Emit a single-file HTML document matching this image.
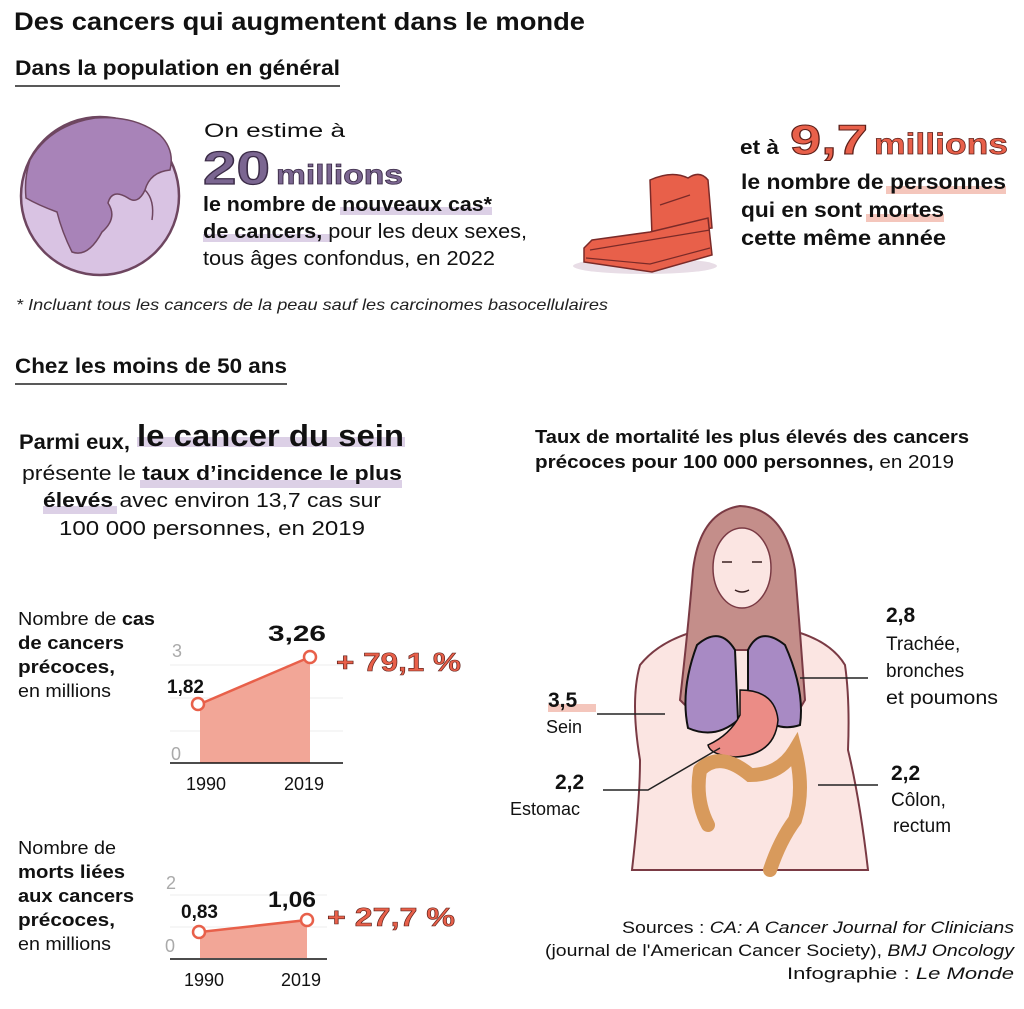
<!DOCTYPE html>
<html><head><meta charset="utf-8"><style>
html,body{margin:0;padding:0;background:#fff;}
svg{display:block;font-family:"Liberation Sans",sans-serif;}
.b{font-weight:bold;}
</style></head><body>
<svg width="1024" height="1009" viewBox="0 0 1024 1009" xmlns="http://www.w3.org/2000/svg">
<text x="14" y="30" font-size="25" class="b" fill="#111" textLength="571" lengthAdjust="spacingAndGlyphs">Des cancers qui augmentent dans le monde</text>
<text x="15" y="75" font-size="21" class="b" fill="#111" textLength="325" lengthAdjust="spacingAndGlyphs">Dans la population en général</text>
<line x1="15" y1="86" x2="340" y2="86" stroke="#222" stroke-width="1.5"/>

<!-- globe -->
<circle cx="100" cy="196" r="79" fill="#d9c3e3" stroke="#6e4660" stroke-width="2.5"/>
<path d="M30 160 Q50 125 95 118 Q135 115 160 135 Q175 150 170 170 Q150 172 145 190 Q138 205 128 198 Q112 188 108 203 Q118 218 102 232 Q88 258 72 252 Q62 232 57 212 Q38 205 26 198 Q24 178 30 160Z" fill="#a883b8" stroke="#6e4660" stroke-width="1.5"/>
<path d="M145 190 Q155 200 152 220" fill="none" stroke="#6e4660" stroke-width="1.5"/>

<text x="204" y="137" font-size="19" fill="#111" textLength="141" lengthAdjust="spacingAndGlyphs">On estime à</text>
<text x="203" y="184" font-size="46" class="b" fill="#7b6691" stroke="#3c2c48" stroke-width="1.2" textLength="67" lengthAdjust="spacingAndGlyphs">20</text>
<text x="276" y="184" font-size="28" class="b" fill="#7b6691" stroke="#3c2c48" stroke-width="0.8" textLength="127" lengthAdjust="spacingAndGlyphs">millions</text>
<rect x="340" y="207" width="152" height="8" fill="#dcd0e6"/>
<rect x="203" y="234" width="128" height="8" fill="#dcd0e6"/>
<text x="203" y="211" font-size="20" class="b" fill="#111" textLength="289" lengthAdjust="spacingAndGlyphs">le nombre de nouveaux cas*</text>
<text x="203" y="238" font-size="20" fill="#111" textLength="324" lengthAdjust="spacingAndGlyphs"><tspan class="b">de cancers,</tspan> pour les deux sexes,</text>
<text x="203" y="265" font-size="20" fill="#111" textLength="292" lengthAdjust="spacingAndGlyphs">tous âges confondus, en 2022</text>

<!-- tomb -->
<ellipse cx="645" cy="266" rx="72" ry="8" fill="#e8dde6"/>
<path d="M650 180 Q672 170 688 178 Q700 170 708 180 L712 228 L652 236Z" fill="#e8604a" stroke="#7a2a28" stroke-width="1.5"/>
<path d="M592 240 L650 232 L708 218 L712 255 L652 272 L584 262 L584 248Z" fill="#e8604a" stroke="#7a2a28" stroke-width="1.5"/>
<path d="M590 250 L710 230 M586 258 L650 264 L710 248 M660 205 L690 195" fill="none" stroke="#7a2a28" stroke-width="1.2"/>

<text x="740" y="154" font-size="20" class="b" fill="#111" textLength="39" lengthAdjust="spacingAndGlyphs">et à</text>
<text x="790" y="154" font-size="42" class="b" fill="#e8604a" stroke="#5a1e18" stroke-width="1" textLength="78" lengthAdjust="spacingAndGlyphs">9,7</text>
<text x="874" y="154" font-size="30" class="b" fill="#e8604a" stroke="#5a1e18" stroke-width="0.7" textLength="134" lengthAdjust="spacingAndGlyphs">millions</text>
<rect x="886" y="186" width="120" height="8" fill="#f4c6bc"/>
<rect x="866" y="214" width="78" height="8" fill="#f4c6bc"/>
<text x="741" y="189" font-size="21" class="b" fill="#111" textLength="265" lengthAdjust="spacingAndGlyphs">le nombre de personnes</text>
<text x="741" y="217" font-size="21" class="b" fill="#111" textLength="203" lengthAdjust="spacingAndGlyphs">qui en sont mortes</text>
<text x="741" y="245" font-size="21" class="b" fill="#111" textLength="205" lengthAdjust="spacingAndGlyphs">cette même année</text>

<text x="16" y="310" font-size="16" font-style="italic" fill="#222" textLength="592" lengthAdjust="spacingAndGlyphs">* Incluant tous les cancers de la peau sauf les carcinomes basocellulaires</text>

<text x="15" y="373" font-size="21" class="b" fill="#111" textLength="272" lengthAdjust="spacingAndGlyphs">Chez les moins de 50 ans</text>
<line x1="15" y1="384" x2="287" y2="384" stroke="#222" stroke-width="1.5"/>

<rect x="137" y="437" width="268" height="10" fill="#dcd0e6"/>
<text x="19" y="449" font-size="21" class="b" fill="#111" textLength="111" lengthAdjust="spacingAndGlyphs">Parmi eux,</text>
<text x="137" y="446" font-size="31" class="b" fill="#111" textLength="267" lengthAdjust="spacingAndGlyphs">le cancer du sein</text>
<rect x="140" y="480" width="262" height="8" fill="#dcd0e6"/>
<rect x="43" y="506" width="74" height="8" fill="#dcd0e6"/>
<text x="22" y="480" font-size="20" fill="#111" textLength="380" lengthAdjust="spacingAndGlyphs">présente le <tspan class="b">taux d’incidence le plus</tspan></text>
<text x="43" y="507" font-size="20" fill="#111" textLength="338" lengthAdjust="spacingAndGlyphs"><tspan class="b">élevés</tspan> avec environ 13,7 cas sur</text>
<text x="59" y="535" font-size="20" fill="#111" textLength="306" lengthAdjust="spacingAndGlyphs">100 000 personnes, en 2019</text>

<!-- chart 1 -->
<text x="18" y="625" font-size="18" fill="#111" textLength="137" lengthAdjust="spacingAndGlyphs">Nombre de <tspan class="b">cas</tspan></text>
<text x="18" y="649" font-size="18" class="b" fill="#111" textLength="106" lengthAdjust="spacingAndGlyphs">de cancers</text>
<text x="18" y="673" font-size="18" class="b" fill="#111" textLength="97" lengthAdjust="spacingAndGlyphs">précoces,</text>
<text x="18" y="697" font-size="18" fill="#111" textLength="93" lengthAdjust="spacingAndGlyphs">en millions</text>
<line x1="170" y1="665" x2="343" y2="665" stroke="#eee"/>
<line x1="170" y1="698" x2="343" y2="698" stroke="#eee"/>
<line x1="170" y1="731" x2="343" y2="731" stroke="#eee"/>
<polygon points="200,704 310,657 310,763 200,763" fill="#f2a697"/>
<line x1="170" y1="763" x2="343" y2="763" stroke="#111" stroke-width="1.5"/>
<line x1="200" y1="704" x2="310" y2="657" stroke="#e8604a" stroke-width="2.5"/>
<circle cx="198" cy="704" r="6" fill="#fff" stroke="#e8604a" stroke-width="2.5"/>
<circle cx="310" cy="657" r="6" fill="#fff" stroke="#e8604a" stroke-width="2.5"/>
<text x="172" y="657" font-size="18" fill="#aaa">3</text>
<text x="171" y="760" font-size="18" fill="#aaa">0</text>
<text x="167" y="693" font-size="19" class="b" fill="#111">1,82</text>
<text x="268" y="641" font-size="22" class="b" fill="#111" textLength="58" lengthAdjust="spacingAndGlyphs">3,26</text>
<text x="336" y="671" font-size="26" class="b" fill="#e8604a" stroke="#5a1e18" stroke-width="0.6" textLength="125" lengthAdjust="spacingAndGlyphs">+ 79,1 %</text>
<text x="186" y="790" font-size="18" fill="#111">1990</text>
<text x="284" y="790" font-size="18" fill="#111">2019</text>

<!-- chart 2 -->
<text x="18" y="854" font-size="18" fill="#111" textLength="98" lengthAdjust="spacingAndGlyphs">Nombre de</text>
<text x="18" y="878" font-size="18" class="b" fill="#111" textLength="107" lengthAdjust="spacingAndGlyphs">morts liées</text>
<text x="18" y="902" font-size="18" class="b" fill="#111" textLength="116" lengthAdjust="spacingAndGlyphs">aux cancers</text>
<text x="18" y="926" font-size="18" class="b" fill="#111" textLength="97" lengthAdjust="spacingAndGlyphs">précoces,</text>
<text x="18" y="950" font-size="18" fill="#111" textLength="93" lengthAdjust="spacingAndGlyphs">en millions</text>
<line x1="170" y1="895" x2="327" y2="895" stroke="#eee"/>
<line x1="170" y1="927" x2="327" y2="927" stroke="#eee"/>
<polygon points="200,932 307,920 307,958 200,958" fill="#f2a697"/>
<line x1="170" y1="959" x2="327" y2="959" stroke="#111" stroke-width="1.5"/>
<line x1="200" y1="932" x2="307" y2="920" stroke="#e8604a" stroke-width="2.5"/>
<circle cx="199" cy="932" r="6" fill="#fff" stroke="#e8604a" stroke-width="2.5"/>
<circle cx="307" cy="920" r="6" fill="#fff" stroke="#e8604a" stroke-width="2.5"/>
<text x="166" y="889" font-size="18" fill="#aaa">2</text>
<text x="165" y="952" font-size="18" fill="#aaa">0</text>
<text x="181" y="918" font-size="19" class="b" fill="#111">0,83</text>
<text x="268" y="907" font-size="22" class="b" fill="#111" textLength="48" lengthAdjust="spacingAndGlyphs">1,06</text>
<text x="327" y="926" font-size="26" class="b" fill="#e8604a" stroke="#5a1e18" stroke-width="0.6" textLength="128" lengthAdjust="spacingAndGlyphs">+ 27,7 %</text>
<text x="184" y="986" font-size="18" fill="#111">1990</text>
<text x="281" y="986" font-size="18" fill="#111">2019</text>

<text x="535" y="443" font-size="18" class="b" fill="#111" textLength="434" lengthAdjust="spacingAndGlyphs">Taux de mortalité les plus élevés des cancers</text>
<text x="535" y="468" font-size="18" fill="#111" textLength="419" lengthAdjust="spacingAndGlyphs"><tspan class="b">précoces pour 100 000 personnes,</tspan> en 2019</text>

<!-- woman -->
<path d="M640 665 Q660 640 700 630 L790 630 Q830 640 845 665 Q850 700 848 750 Q860 800 868 870 L632 870 Q640 800 640 760 Q630 700 640 665Z" fill="#fbe5e2" stroke="#7a3a44" stroke-width="2"/>
<path d="M740 506 Q700 512 693 570 Q688 630 680 700 L702 722 L712 650 L772 650 L792 722 L805 700 Q800 630 795 570 Q785 508 740 506Z" fill="#c48e8a" stroke="#7a3a44" stroke-width="2"/>
<ellipse cx="742" cy="568" rx="29" ry="40" fill="#fbe5e2" stroke="#7a3a44" stroke-width="1.5"/>
<path d="M722 562 h10 M752 562 h10 M735 590 q7 4 14 0" stroke="#3a2020" stroke-width="1.5" fill="none"/>
<path d="M697 645 Q720 625 735 650 L738 720 Q715 740 688 728 Q680 690 697 645Z" fill="#a88ac4" stroke="#111" stroke-width="2"/>
<path d="M785 645 Q760 625 748 650 L748 700 Q770 735 800 725 Q805 690 785 645Z" fill="#a88ac4" stroke="#111" stroke-width="2"/>
<path d="M740 690 Q775 690 778 720 Q775 755 735 757 Q710 755 708 745 Q730 735 740 715Z" fill="#eb8c86" stroke="#111" stroke-width="1.5"/>
<path d="M700 770 Q720 750 750 775 Q780 775 795 750 Q805 790 795 820 Q780 840 770 870 M700 770 Q695 800 708 825" fill="none" stroke="#d89a5c" stroke-width="14" stroke-linecap="round"/>

<rect x="548" y="704" width="48" height="8" fill="#f4c6bc"/>
<text x="548" y="707" font-size="21" class="b" fill="#111">3,5</text>
<text x="546" y="733" font-size="18" fill="#111">Sein</text>
<line x1="597" y1="714" x2="665" y2="714" stroke="#222" stroke-width="1.5"/>
<text x="555" y="789" font-size="21" class="b" fill="#111">2,2</text>
<text x="510" y="815" font-size="18" fill="#111">Estomac</text>
<path d="M603 790 L648 790 L720 748" fill="none" stroke="#222" stroke-width="1.5"/>
<text x="886" y="622" font-size="21" class="b" fill="#111">2,8</text>
<text x="886" y="650" font-size="19" fill="#111">Trachée,</text>
<text x="886" y="677" font-size="19" fill="#111">bronches</text>
<text x="886" y="704" font-size="19" fill="#111" textLength="112" lengthAdjust="spacingAndGlyphs">et poumons</text>
<line x1="800" y1="678" x2="868" y2="678" stroke="#222" stroke-width="1.5"/>
<text x="891" y="780" font-size="21" class="b" fill="#111">2,2</text>
<text x="891" y="806" font-size="19" fill="#111">Côlon,</text>
<text x="893" y="832" font-size="19" fill="#111">rectum</text>
<line x1="818" y1="785" x2="878" y2="785" stroke="#222" stroke-width="1.5"/>

<text x="622" y="933" font-size="17" fill="#111" textLength="392" lengthAdjust="spacingAndGlyphs">Sources : <tspan font-style="italic">CA: A Cancer Journal for Clinicians</tspan></text>
<text x="545" y="956" font-size="17" fill="#111" textLength="469" lengthAdjust="spacingAndGlyphs">(journal de l'American Cancer Society), <tspan font-style="italic">BMJ Oncology</tspan></text>
<text x="787" y="979" font-size="17" fill="#111" textLength="227" lengthAdjust="spacingAndGlyphs">Infographie : <tspan font-style="italic">Le Monde</tspan></text>
</svg>
</body></html>
